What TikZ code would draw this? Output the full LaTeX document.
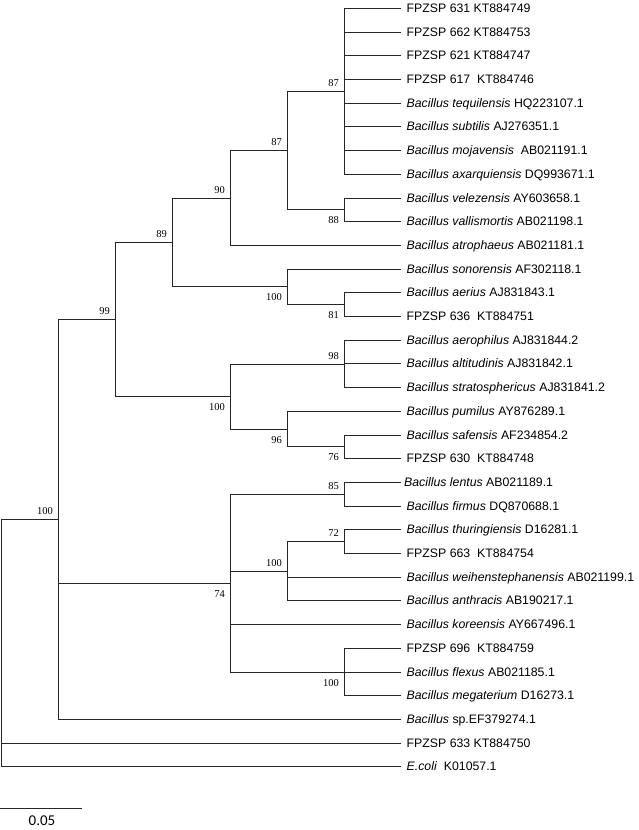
\documentclass[tikz,border=0pt]{standalone}
\usepackage{fontspec}
\setmainfont{Liberation Sans}
\newfontfamily\bootfont{Liberation Serif}
\newfontfamily\sbarfont{Carlito}
\usetikzlibrary{positioning}

\begin{document}
\begin{tikzpicture}[x=1pt,y=-1pt]
    % neighbour joining tree, all positions in pixels of the figure
    \tikzstyle{branch} = [draw=black!85, line width=1.2pt];
    \tikzstyle{leaf} = [anchor=base west, inner sep=0, xshift=6pt, yshift=-3.9pt, font=\fontsize{12.3}{14}\selectfont];
    \tikzstyle{bsup} = [anchor=east, inner sep=0, xshift=-5.5pt, yshift=8pt, font=\bootfont\fontsize{10.5}{12}\selectfont];
    \tikzstyle{bsdown} = [anchor=east, inner sep=0, xshift=-5.5pt, yshift=-11pt, font=\bootfont\fontsize{10.5}{12}\selectfont];

    \useasboundingbox (0,0) rectangle (638,830);

    \coordinate (root) at (1.5,643.5);
    \coordinate (n100a) at (58.5,519.5);
    \coordinate (n99) at (115.5,319.5);
    \coordinate (n89) at (172.5,242.5);
    \coordinate (n90) at (230.5,198.5);
    \coordinate (n87b) at (287.5,150.5);
    \coordinate (n87a) at (344.5,91.5);
    \coordinate (n88) at (344.5,209.5);
    \coordinate (n100b) at (287.5,286.5);
    \coordinate (n81) at (344.5,304.5);
    \coordinate (n100c) at (230.5,396.5);
    \coordinate (n98) at (344.5,364.5);
    \coordinate (n96) at (287.5,429.5);
    \coordinate (n76) at (344.5,446.5);
    \coordinate (n74) at (230.5,583.5);
    \coordinate (n85) at (344.5,494.5);
    \coordinate (n100d) at (287.5,571.5);
    \coordinate (n72) at (344.5,541.5);
    \coordinate (n100e) at (344.5,672.5);

    \foreach \i/\txt in {1/{FPZSP 631 KT884749}, 2/{FPZSP 662 KT884753}, 3/{FPZSP 621 KT884747},
        4/{FPZSP 617~~KT884746}, 5/{\textit{Bacillus tequilensis} HQ223107.1},
        6/{\textit{Bacillus subtilis} AJ276351.1}, 7/{\textit{Bacillus mojavensis}~~AB021191.1},
        8/{\textit{Bacillus axarquiensis} DQ993671.1}, 9/{\textit{Bacillus velezensis} AY603658.1},
        10/{\textit{Bacillus vallismortis} AB021198.1}, 11/{\textit{Bacillus atrophaeus} AB021181.1},
        12/{\textit{Bacillus sonorensis} AF302118.1}, 13/{\textit{Bacillus aerius} AJ831843.1},
        14/{FPZSP 636~~KT884751}, 15/{\textit{Bacillus aerophilus} AJ831844.2},
        16/{\textit{Bacillus altitudinis} AJ831842.1}, 17/{\textit{Bacillus stratosphericus} AJ831841.2},
        18/{\textit{Bacillus pumilus} AY876289.1}, 19/{\textit{Bacillus safensis} AF234854.2},
        20/{FPZSP 630~~KT884748}, 21/{\hspace*{-2.5pt}\textit{Bacillus lentus} AB021189.1},
        22/{\textit{Bacillus firmus} DQ870688.1}, 23/{\textit{Bacillus thuringiensis} D16281.1},
        24/{FPZSP 663~~KT884754}, 25/{\textit{Bacillus weihenstephanensis} AB021199.1},
        26/{\textit{Bacillus anthracis} AB190217.1}, 27/{\textit{Bacillus koreensis} AY667496.1},
        28/{FPZSP 696~~KT884759}, 29/{\textit{Bacillus flexus} AB021185.1},
        30/{\textit{Bacillus megaterium} D16273.1}, 31/{\textit{Bacillus} sp.EF379274.1},
        32/{FPZSP 633 KT884750}, 33/{\textit{E.coli}~~K01057.1}}
    {
        \coordinate (l\i) at (400.5,{floor(8.5+23.7*(\i-1))+0.5});
        \node[leaf] (t\i) at (l\i) {\txt};
    }

    % one path per parent, so shared verticals are stroked once
    \draw[branch] (root) |- (n100a) (root) |- (l32) (root) |- (l33);
    \draw[branch] (n100a) |- (n99) (n100a) |- (n74) (n100a) |- (l31);
    \draw[branch] (n99) |- (n89) (n99) |- (n100c);
    \draw[branch] (n89) |- (n90) (n89) |- (n100b);
    \draw[branch] (n90) |- (n87b) (n90) |- (l11);
    \draw[branch] (n87b) |- (n87a) (n87b) |- (n88);
    \draw[branch] foreach \i in {1,...,8} {(n87a) |- (l\i)};
    \draw[branch] (n88) |- (l9) (n88) |- (l10);
    \draw[branch] (n100b) |- (l12) (n100b) |- (n81);
    \draw[branch] (n81) |- (l13) (n81) |- (l14);
    \draw[branch] (n100c) |- (n98) (n100c) |- (n96);
    \draw[branch] foreach \i in {15,16,17} {(n98) |- (l\i)};
    \draw[branch] (n96) |- (l18) (n96) |- (n76);
    \draw[branch] (n76) |- (l19) (n76) |- (l20);
    \draw[branch] (n74) |- (n85) (n74) |- (n100d) (n74) |- (l27) (n74) |- (n100e);
    \draw[branch] (n85) |- (l21) (n85) |- (l22);
    \draw[branch] (n100d) |- (n72) (n100d) |- (l25) (n100d) |- (l26);
    \draw[branch] (n72) |- (l23) (n72) |- (l24);
    \draw[branch] foreach \i in {28,29,30} {(n100e) |- (l\i)};

    \node[bsup] (b87a) at (n87a) {87};
    \node[bsdown] (b88) at (n88) {88};
    \node[bsup] (b87b) at (n87b) {87};
    \node[bsup] (b90) at (n90) {90};
    \node[bsup] (b89) at (n89) {89};
    \node[bsdown] (b100b) at (n100b) {100};
    \node[bsdown] (b81) at (n81) {81};
    \node[bsup] (b99) at (n99) {99};
    \node[bsdown] (b100c) at (n100c) {100};
    \node[bsup] (b98) at (n98) {98};
    \node[bsdown] (b96) at (n96) {96};
    \node[bsdown] (b76) at (n76) {76};
    \node[bsup] (b100a) at (n100a) {100};
    \node[bsup] (b85) at (n85) {85};
    \node[bsup] (b72) at (n72) {72};
    \node[bsup] (b100d) at (n100d) {100};
    \node[bsdown] (b74) at (n74) {74};
    \node[bsdown] (b100e) at (n100e) {100};

    % scale bar
    \coordinate (sb0) at (0,808.5);
    \coordinate (sb1) at (82,808.5);
    \draw[branch] (sb0) -- (sb1);
    \node[inner sep=0, font=\sbarfont\fontsize{15}{17}\selectfont] (sbl) at (42,820.5) {0.05};
\end{tikzpicture}
\end{document}
